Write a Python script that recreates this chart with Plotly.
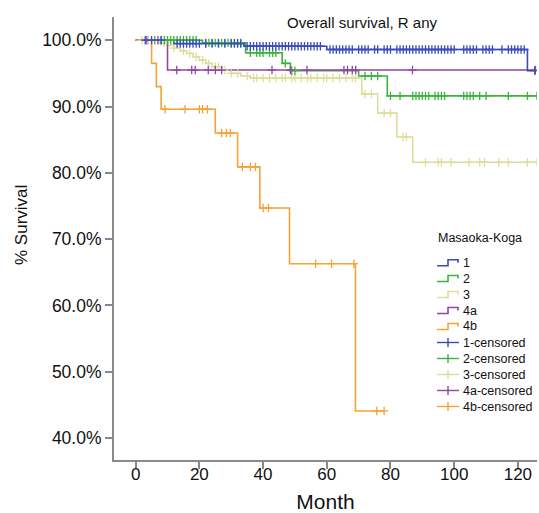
import plotly.graph_objects as go

# Kaplan-Meier step curves by Masaoka-Koga stage: event times (months) and survival (%)
stages = ["1", "2", "3", "4a", "4b"]

t_1 = [0, 12, 34, 60, 123]
s_1 = [100, 99.5, 99.1, 98.6, 95.4]
end_1 = 125.3

t_2 = [0, 21, 34.5, 46, 48.6, 70, 79]
s_2 = [100, 99.6, 98.1, 96.5, 95.4, 94.6, 91.6]
end_2 = 126

t_3 = [0, 7, 10, 12, 14, 16, 18, 20, 22, 24, 27, 30, 33, 36, 71, 76, 82, 87]
s_3 = [100, 99.6, 99.2, 98.8, 98.4, 98.0, 97.5, 97.0, 96.5, 96.0, 95.5, 95.0, 94.6, 94.3, 91.9, 89.0, 85.4, 81.6]
end_3 = 126

t_4a = [0, 10]
s_4a = [100, 95.5]
end_4a = 125.5

t_4b = [0, 5, 6.5, 8, 25, 32, 39, 48.3, 69]
s_4b = [100, 96.5, 93.0, 89.6, 86.0, 80.9, 74.7, 66.3, 44.1]
end_4b = 78

# censoring times (months)
c_1 = [3, 5, 8, 13, 14, 15, 16, 17, 18, 19, 20, 22, 24, 26, 28, 30, 31, 32, 33, 35, 36, 37,
       38, 39, 40, 41, 42, 43, 44, 45, 46, 47, 48, 49, 50, 51, 52, 53, 54, 55, 56, 57, 58, 61,
       62, 63, 64, 65, 66, 67, 68, 70, 71, 72, 73, 75, 76, 78, 79, 80, 82, 83, 84, 85, 86, 87,
       88, 89, 90, 91, 92, 93, 94, 95, 96, 97, 98, 99, 100, 103, 104, 105, 106, 107, 109, 110,
       111, 112, 115, 117, 118, 119, 120, 121, 122, 125.3]
c_2 = [6, 8, 9, 10, 11, 12, 13, 14, 15, 16, 17, 18, 19, 22, 23, 24, 25, 26, 27, 28, 29, 30,
       31, 32, 33, 36, 38, 39, 40, 42, 43, 44, 47, 49, 50, 72, 74, 76, 80, 83, 87, 88, 89, 90,
       91, 92, 94, 95, 96, 97, 103, 104, 105, 106, 108, 110, 117, 123, 126]
c_3 = [2, 4, 9, 12, 15, 17, 19, 21, 23, 25, 26, 28, 30, 32, 35, 37, 38, 40, 42, 44, 46, 47,
       49, 50, 52, 54, 55, 57, 59, 60, 62, 64, 66, 68, 69, 72, 74, 78, 80, 84, 85, 91, 95, 96,
       99, 104.7, 108, 109.5, 114, 117, 123, 126]
c_4a = [3.5, 7, 12.9, 17.6, 18.7, 22.8, 25, 27, 42.8, 48.6, 53.8, 65.4, 66.5, 68, 69.1, 86.9, 125.5]
c_4b = [9.2, 15.5, 20, 21, 22.5, 27, 28.5, 29.7, 33.5, 36, 37.6, 40, 41.7, 56.5, 61.5, 68.5, 75.7, 78]

y_ticks = [40, 50, 60, 70, 80, 90, 100]
x_ticks = [0, 20, 40, 60, 80, 100, 120]

colors = {"1": "#3a4cb6", "2": "#3cb43c", "3": "#dede9c", "4a": "#9444a4", "4b": "#f5a236"}

curves = {
    "1": (t_1, s_1, end_1, c_1),
    "2": (t_2, s_2, end_2, c_2),
    "3": (t_3, s_3, end_3, c_3),
    "4a": (t_4a, s_4a, end_4a, c_4a),
    "4b": (t_4b, s_4b, end_4b, c_4b),
}


def surv_at(times, surv, t):
    val = surv[0]
    for ti, si in zip(times, surv):
        if ti <= t:
            val = si
    return val


fig = go.Figure()
draw_order = ["3", "2", "4a", "1", "4b"]
for g in draw_order:
    times, surv, end, cens = curves[g]
    fig.add_trace(go.Scatter(
        x=times + [end], y=surv + [surv[-1]], mode="lines",
        line=dict(color=colors[g], width=1.6, shape="hv"),
        name=g, showlegend=False, hoverinfo="skip"))
for g in draw_order:
    times, surv, end, cens = curves[g]
    fig.add_trace(go.Scatter(
        x=cens, y=[surv_at(times, surv, c) for c in cens], mode="markers",
        marker=dict(symbol="cross-thin", size=6, line=dict(color=colors[g], width=1.3)),
        name=g + "-censored", showlegend=False, hoverinfo="skip"))

# plot-area geometry in pixels, used to place the hand-built legend and titles
L, R, T, B, W, H = 114, 2, 17, 53, 539, 513
pw, ph = W - L - R, H - T - B


def px(x):
    return (x - L) / pw


def py(y):
    return (H - B - y) / ph


font = "Liberation Sans, Arial, sans-serif"
annotations = [
    dict(text="Overall survival, R any", x=px(362), y=py(22), xref="paper", yref="paper",
         showarrow=False, font=dict(family=font, size=15, color="#111"), xanchor="center", yanchor="middle"),
    dict(text="% Survival", x=px(21), y=py(225), xref="paper", yref="paper", textangle=-90,
         showarrow=False, font=dict(family=font, size=17, color="#111"), xanchor="center", yanchor="middle"),
    dict(text="Masaoka-Koga", x=px(436), y=py(238), xref="paper", yref="paper",
         showarrow=False, font=dict(family=font, size=12.5, color="#111"), xanchor="left", yanchor="middle"),
]
shapes = []
item_y = [262.7, 278.5, 294.5, 310.5, 326.5, 342.5, 358.5, 374.5, 390.5, 406.5]
labels = stages + [s + "-censored" for s in stages]
for i, lab in enumerate(labels):
    yc = item_y[i]
    annotations.append(dict(text=lab, x=px(461), y=py(yc), xref="paper", yref="paper",
                            showarrow=False, font=dict(family=font, size=12.5, color="#111"),
                            xanchor="left", yanchor="middle"))
    g = stages[i % 5]
    c = colors[g]
    if i < 5:
        path = (f"M {px(437)},{py(yc + 3)} L {px(448)},{py(yc + 3)} L {px(448)},{py(yc - 3)} "
                f"L {px(458)},{py(yc - 3)} L {px(458)},{py(yc)}")
        shapes.append(dict(type="path", path=path, xref="paper", yref="paper",
                           line=dict(color=c, width=1.6)))
    else:
        shapes.append(dict(type="line", x0=px(437), x1=px(459), y0=py(yc), y1=py(yc),
                           xref="paper", yref="paper", line=dict(color=c, width=1.4)))
        shapes.append(dict(type="line", x0=px(448), x1=px(448), y0=py(yc - 4.5), y1=py(yc + 4.5),
                           xref="paper", yref="paper", line=dict(color=c, width=1.4)))

fig.update_layout(
    width=W, height=H,
    margin=dict(l=L, r=R, t=T, b=B, pad=0, autoexpand=False),
    paper_bgcolor="white", plot_bgcolor="white",
    showlegend=False,
    font=dict(family=font, color="#111"),
    annotations=annotations, shapes=shapes,
    xaxis=dict(range=[-6.8, 126], tickvals=x_ticks, ticks="outside", ticklen=7, tickwidth=1.5,
               tickcolor="#888", showline=True, linecolor="#8a8a8a", linewidth=2, showgrid=False,
               zeroline=False, tickfont=dict(size=17, color="#111"), ticklabelstandoff=-9,
               automargin=False,
               title=dict(text="Month", font=dict(size=21, color="#111"), standoff=16)),
    yaxis=dict(range=[36.7, 103.5], tickvals=y_ticks, ticktext=[f"{v:.1f}%" for v in y_ticks],
               ticks="outside", ticklen=7, tickwidth=1.5, tickcolor="#888", showline=True,
               linecolor="#8a8a8a", linewidth=2, showgrid=False, zeroline=False,
               automargin=False, tickfont=dict(size=17.5, color="#111")),
)

fig.write_html("out.html")
